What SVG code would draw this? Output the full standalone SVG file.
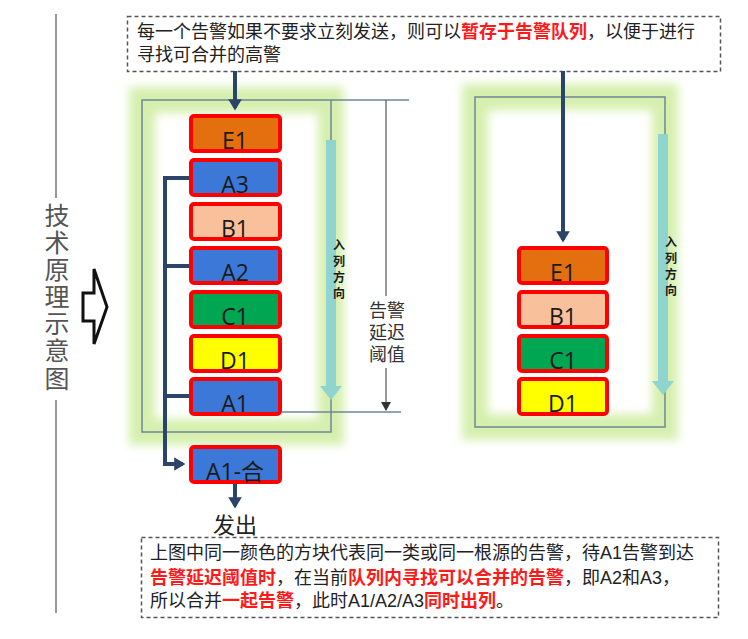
<svg xmlns="http://www.w3.org/2000/svg" width="748" height="639" viewBox="0 0 748 639">
<style>
.cjk{font-family:"Liberation Sans","Noto Sans CJK SC",sans-serif;}
.note{font-size:18px;fill:#222;}
.red{fill:#ff1a1a;font-weight:bold;}
.box{stroke:#ff0000;stroke-width:4;}
.lbl{font-family:"Open Sans","Liberation Sans","Noto Sans CJK SC",sans-serif;font-size:23px;fill:#1a1a1a;text-anchor:middle;}
.dash{fill:#fff;stroke:#555;stroke-width:1.5;stroke-dasharray:4 3;}
.gray{stroke:#6f8799;stroke-width:1.5;fill:none;}
.navy{stroke:#2b4569;stroke-width:4;fill:none;}
.glow{fill:none;stroke:#d6efae;stroke-width:26;}
.dir{font-size:12px;font-weight:bold;fill:#1a1a1a;text-anchor:middle;}
</style>
<defs>
<filter id="blur" x="-20%" y="-20%" width="140%" height="140%"><feGaussianBlur stdDeviation="5"/></filter>
<marker id="ah" markerWidth="4" markerHeight="4" refX="2.2" refY="2" orient="auto" markerUnits="strokeWidth"><path d="M0,0.3 L2.8,2 L0,3.7 Z" fill="#2b4569"/></marker>
<marker id="ahs" markerWidth="10" markerHeight="10" refX="8" refY="5" orient="auto" markerUnits="userSpaceOnUse"><path d="M0,0 L9,5 L0,10 Z" fill="#333"/></marker>
</defs>
<rect width="748" height="639" fill="#fff"/>

<!-- left label -->
<g id="side-label">
<line x1="56" y1="14" x2="56" y2="198" stroke="#777" stroke-width="1.5"/>
<line x1="56" y1="400" x2="56" y2="613" stroke="#777" stroke-width="1.5"/>
<g class="cjk" font-size="25" fill="#555" text-anchor="middle">
<text x="57" y="225">技</text>
<text x="57" y="252">术</text>
<text x="57" y="279">原</text>
<text x="57" y="306">理</text>
<text x="57" y="333">示</text>
<text x="57" y="360">意</text>
<text x="57" y="388">图</text>
</g>
<polygon points="83,293 94,293 94,269 107,307 94,344 94,321 83,321" fill="#fff" stroke="#111" stroke-width="3" stroke-linejoin="miter"/>
</g>

<!-- top note -->
<g id="top-note">
<rect class="dash" x="127.5" y="16.5" width="593" height="55"/>
<text class="cjk note" x="137" y="38">每一个告警如果不要求立刻发送，则可以<tspan class="red">暂存于告警队列</tspan>，以便于进行</text>
<text class="cjk note" x="137" y="61">寻找可合并的高警</text>
</g>

<!-- left queue frame -->
<g id="left-queue">
<rect class="glow" x="142" y="100" width="189" height="332" filter="url(#blur)"/>
<rect class="gray" x="142" y="100" width="189" height="332"/>
<line x1="331" y1="140" x2="331" y2="388" stroke="#8fd4cf" stroke-width="10"/>
<polygon points="320,386 342,386 331,400" fill="#8fd4cf"/>
<g class="cjk dir"><text x="339" y="250">入</text><text x="339" y="266">列</text><text x="339" y="282">方</text><text x="339" y="298">向</text></g>
</g>

<!-- delay threshold dimension -->
<g id="delay-threshold">
<line class="gray" x1="331" y1="100" x2="409" y2="100"/>
<line class="gray" x1="282" y1="412" x2="401" y2="412"/>
<line x1="386" y1="100" x2="386" y2="296" stroke="#555" stroke-width="1.2"/>
<line x1="386" y1="368" x2="386" y2="410" stroke="#555" stroke-width="1.2" marker-end="url(#ahs)"/>
<g class="cjk" font-size="18" fill="#333" text-anchor="middle">
<text x="387" y="317">告警</text><text x="387" y="339">延迟</text><text x="387" y="361">阈值</text>
</g>
</g>

<!-- right queue frame -->
<g id="right-queue">
<rect class="glow" x="475" y="97" width="190" height="330" filter="url(#blur)"/>
<rect class="gray" x="475" y="97" width="190" height="330"/>
<line x1="663" y1="134" x2="663" y2="383" stroke="#8fd4cf" stroke-width="10"/>
<polygon points="652,381 674,381 663,395" fill="#8fd4cf"/>
<g class="cjk dir"><text x="671" y="247">入</text><text x="671" y="263">列</text><text x="671" y="279">方</text><text x="671" y="295">向</text></g>
</g>

<!-- connectors -->
<g id="connectors">
<line class="navy" x1="235" y1="71" x2="235" y2="108" marker-end="url(#ah)"/>
<line class="navy" x1="563" y1="71" x2="563" y2="240" marker-end="url(#ah)"/>
<polyline class="navy" points="191,178 165,178 165,464 183,464" marker-end="url(#ah)"/>
<line class="navy" x1="165" y1="266" x2="191" y2="266"/>
<line class="navy" x1="165" y1="396" x2="191" y2="396"/>
<line class="navy" x1="235" y1="484" x2="235" y2="506" marker-end="url(#ah)"/>
</g>

<!-- left boxes -->
<g id="L-E1"><rect class="box" x="191" y="116" width="89" height="35" rx="3" fill="#e36f0e"/><text class="lbl" x="235" y="149">E1</text></g>
<g id="L-A3"><rect class="box" x="191" y="160" width="89" height="35" rx="3" fill="#3c78d8"/><text class="lbl" x="235" y="193">A3</text></g>
<g id="L-B1"><rect class="box" x="191" y="204" width="89" height="35" rx="3" fill="#f8c19b"/><text class="lbl" x="235" y="237">B1</text></g>
<g id="L-A2"><rect class="box" x="191" y="248" width="89" height="35" rx="3" fill="#3c78d8"/><text class="lbl" x="235" y="281">A2</text></g>
<g id="L-C1"><rect class="box" x="191" y="292" width="89" height="35" rx="3" fill="#00a651"/><text class="lbl" x="235" y="325">C1</text></g>
<g id="L-D1"><rect class="box" x="191" y="336" width="89" height="35" rx="3" fill="#ffff00"/><text class="lbl" x="235" y="369">D1</text></g>
<g id="L-A1"><rect class="box" x="191" y="379" width="89" height="35" rx="3" fill="#3c78d8"/><text class="lbl" x="235" y="412">A1</text></g>
<g id="A1-merged"><rect class="box" x="191" y="447" width="89" height="35" rx="3" fill="#3c78d8"/><text class="lbl" x="235" y="480" font-family="'Open Sans','Noto Sans CJK SC',sans-serif">A1-合</text></g>
<g id="send"><text class="cjk" x="235" y="533" font-size="22" fill="#222" text-anchor="middle">发出</text></g>

<!-- right boxes -->
<g id="R-E1"><rect class="box" x="519" y="248" width="88" height="35" rx="3" fill="#e36f0e"/><text class="lbl" x="563" y="281">E1</text></g>
<g id="R-B1"><rect class="box" x="519" y="292" width="88" height="35" rx="3" fill="#f8c19b"/><text class="lbl" x="563" y="325">B1</text></g>
<g id="R-C1"><rect class="box" x="519" y="336" width="88" height="35" rx="3" fill="#00a651"/><text class="lbl" x="563" y="369">C1</text></g>
<g id="R-D1"><rect class="box" x="519" y="379" width="88" height="35" rx="3" fill="#ffff00"/><text class="lbl" x="563" y="412">D1</text></g>

<!-- bottom note -->
<g id="bottom-note">
<rect class="dash" x="141.5" y="537.5" width="577" height="80"/>
<text class="cjk note" x="150" y="559">上图中同一颜色的方块代表同一类或同一根源的告警，待A1告警到达</text>
<text class="cjk note" x="150" y="584"><tspan class="red">告警延迟阈值时</tspan>，在当前<tspan class="red">队列内寻找可以合并的告警</tspan>，即A2和A3，</text>
<text class="cjk note" x="150" y="607">所以合并<tspan class="red">一起告警</tspan>，此时A1/A2/A3<tspan class="red">同时出列</tspan>。</text>
</g>
</svg>
